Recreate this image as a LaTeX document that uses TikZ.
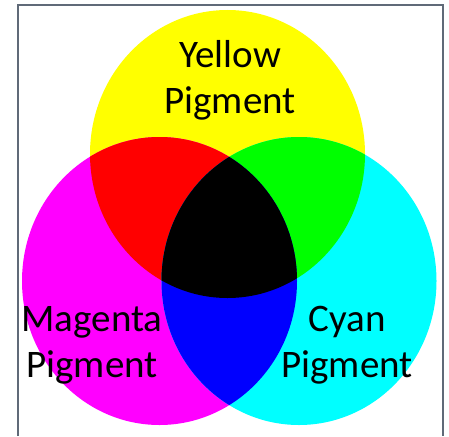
\documentclass[tikz,border=0pt]{standalone}
\usepackage{fontspec}
\setmainfont{Carlito}
\usetikzlibrary{positioning}
\definecolor{framegray}{RGB}{96,106,120}
\definecolor{pyellow}{RGB}{255,255,0}
\definecolor{pmagenta}{RGB}{255,0,255}
\definecolor{pcyan}{RGB}{0,255,255}
\definecolor{pred}{RGB}{255,0,0}
\definecolor{pgreen}{RGB}{0,255,0}
\definecolor{pblue}{RGB}{0,0,255}
\tikzset{
    pigment/.style={
        font=\fontsize{39}{46}\selectfont,
        align=center,
        text=black,
        inner sep=0pt
    },
    frame/.style={
        draw=framegray,
        line width=1.4pt
    }
}

\begin{document}
\begin{tikzpicture}[x=1pt,y=-1pt]
            \useasboundingbox (0,0) rectangle (449,436);

            % Blob centres (slightly taller than wide)
            \coordinate (ycen) at (227.5,154);
            \coordinate (mcen) at (159.5,281);
            \coordinate (ccen) at (299,281);
            \def\blob{ellipse [x radius=137.5pt, y radius=144pt]}

            % Single pigments
            \fill[pyellow] (ycen) \blob;
            \fill[pmagenta] (mcen) \blob;
            \fill[pcyan] (ccen) \blob;

            % Pairs inside yellow
            \begin{scope}
                \clip (ycen) \blob;
                \fill[pred] (mcen) \blob;
                \fill[pgreen] (ccen) \blob;
            \end{scope}

            % Magenta and cyan
            \begin{scope}
                \clip (mcen) \blob;
                \fill[pblue] (ccen) \blob;
                \clip (ccen) \blob;
                \fill[black] (ycen) \blob;
            \end{scope}

            % Labels
            \node[pigment] (ytext) at (230,80) {Yellow\\Pigment};
            \node[pigment] (mtext) at (92,345) {Magenta\\Pigment};
            \node[pigment] (ctext) at (347,345) {Cyan\\Pigment};

            % Frame (open at the bottom)
            \draw[frame] (18,436) -- (18,5) -- (443,5) -- (443,436);
\end{tikzpicture}
\end{document}
